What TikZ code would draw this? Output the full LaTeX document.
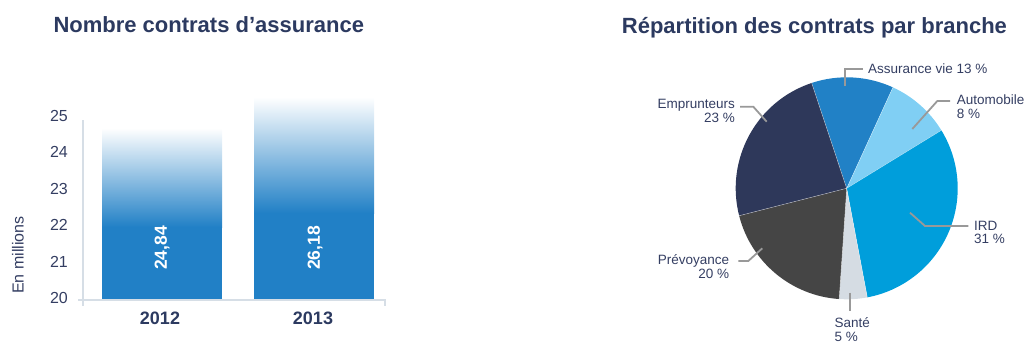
\documentclass[tikz,border=0pt]{standalone}
\usepackage{fontspec}
\setmainfont{Liberation Sans}
\definecolor{navy}{RGB}{44,58,96}
\definecolor{txt}{RGB}{52,62,98}
\definecolor{axisc}{RGB}{214,222,230}
\definecolor{barblue}{RGB}{33,128,198}
\definecolor{barmid}{RGB}{160,182,226}
\definecolor{cEmp}{RGB}{46,56,90}
\definecolor{cPrev}{RGB}{69,69,69}
\definecolor{cSante}{RGB}{213,220,227}
\definecolor{cIRD}{RGB}{0,158,219}
\definecolor{cAuto}{RGB}{128,207,244}
\definecolor{cAV}{RGB}{33,129,198}
\definecolor{leader}{RGB}{153,153,153}
\begin{document}
\begin{tikzpicture}[x=1pt,y=-1pt,
  title/.style={font=\fontsize{22}{24}\selectfont\bfseries, text=navy, inner sep=0pt},
  tick/.style={font=\fontsize{16}{18}\selectfont, text=txt, anchor=east, inner sep=0pt},
  year/.style={font=\fontsize{18}{20}\selectfont\bfseries, text=navy, inner sep=0pt},
  val/.style={font=\fontsize{17.5}{19}\selectfont\bfseries, text=white, rotate=90, inner sep=0pt},
  axisline/.style={draw=axisc, line width=2pt},
  lbl/.style={font=\fontsize{13.5}{13.6}\selectfont, text=txt, inner sep=0pt},
  leaderline/.style={draw=leader, line width=1.8pt},
]
\useasboundingbox (0,0) rectangle (1026,343);

% titles
\node[title, anchor=base west] (t1) at (53.3,32.3) {Nombre contrats d’assurance};
\node[title, anchor=base west] (t2) at (621.7,33) {Répartition des contrats par branche};

% bars
\shade[top color=white, middle color=barmid, bottom color=barblue] (102,128) rectangle (222,227);
\fill[barblue] (102,226.5) rectangle (222,300);
\shade[top color=white, middle color=barmid, bottom color=barblue] (254,97) rectangle (374,213);
\fill[barblue] (254,212.5) rectangle (374,300);

% axes
\draw[axisline] (83,120) -- (83,306);
\draw[axisline] (78,300) -- (385,300) -- (385,306);

% ticks
\foreach \v [count=\i from 0] in {20,21,22,23,24,25}
  \node[tick] (tk\v) at (68,{298-\i*36.4}) {\v};

\node[val] (v12) at (162,248) {24,84};
\node[val] (v13) at (315,248) {26,18};
\node[year] (y12) at (160,318) {2012};
\node[year] (y13) at (313,318) {2013};
\node[font=\fontsize{16}{18}\selectfont, text=txt, rotate=90, inner sep=0pt] (unit) at (18,255) {En millions};

% pie
\begin{scope}[shift={(846.7,188.3)}, y=1pt]
\def\R{111}
\coordinate (pc) at (0,0);
\fill[cAV]    (pc) -- (65.4:\R)   arc[start angle=65.4,  end angle=108.4, radius=\R] -- cycle;
\fill[cAuto]  (pc) -- (31.5:\R)   arc[start angle=31.5,  end angle=65.4,  radius=\R] -- cycle;
\fill[cIRD]   (pc) -- (-79.3:\R)  arc[start angle=-79.3, end angle=31.5,  radius=\R] -- cycle;
\fill[cSante] (pc) -- (-93.9:\R)  arc[start angle=-93.9, end angle=-79.3, radius=\R] -- cycle;
\fill[cPrev]  (pc) -- (-165.7:\R) arc[start angle=-165.7,end angle=-93.9, radius=\R] -- cycle;
\fill[cEmp]   (pc) -- (108.4:\R)  arc[start angle=108.4, end angle=194.3, radius=\R] -- cycle;
\foreach \a in {108.4,65.4,31.5,-79.3,-93.9,-165.7}
  \draw[white, line width=0.4pt, opacity=0.6] (pc) -- (\a:\R);
\end{scope}

% labels (base anchor = baseline of last line)
\node[lbl, anchor=base west] (lav) at (868,73.1) {Assurance vie 13~\%};
\node[lbl, anchor=base west, align=left] (lauto) at (956.7,118.2) {Automobile\\8~\%};
\node[lbl, anchor=base west, align=left] (lird) at (974,243.6) {IRD\\31~\%};
\node[lbl, anchor=base west, align=left] (lsante) at (834.3,341.4) {Santé\\5~\%};
\node[lbl, anchor=base east, align=right] (lprev) at (729.3,278.2) {Prévoyance\\20~\%};
\node[lbl, anchor=base east, align=right] (lemp) at (735,122.1) {Emprunteurs\\23~\%};

% leaders
\coordinate (avA) at (845,86);   \coordinate (avB) at (845,69.3);  \coordinate (avC) at (863.3,69.3);
\coordinate (auA) at (912.3,129);\coordinate (auB) at (937.3,101); \coordinate (auC) at (950,101);
\coordinate (irA) at (910,212.7);\coordinate (irB) at (925,226);   \coordinate (irC) at (968.3,226);
\coordinate (saA) at (850,292.7);\coordinate (saB) at (850,311);
\coordinate (prA) at (762.3,248.3);\coordinate (prB) at (748.3,261);\coordinate (prC) at (738.3,261);
\coordinate (emA) at (766.7,121.7);\coordinate (emB) at (753.3,106.7);\coordinate (emC) at (740,106.7);
\draw[leaderline] (avA) -- (avB) -- (avC);
\draw[leaderline] (auA) -- (auB) -- (auC);
\draw[leaderline] (irA) -- (irB) -- (irC);
\draw[leaderline] (saA) -- (saB);
\draw[leaderline] (prA) -- (prB) -- (prC);
\draw[leaderline] (emA) -- (emB) -- (emC);
\end{tikzpicture}
\end{document}
